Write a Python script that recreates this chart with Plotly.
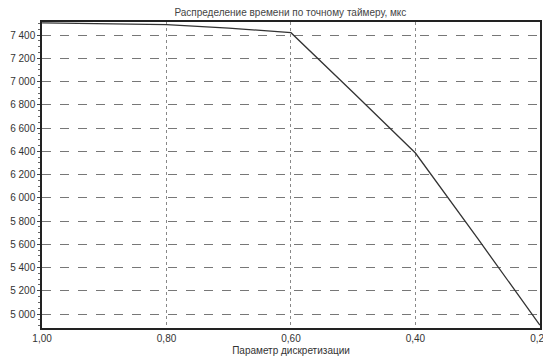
import plotly.graph_objects as go

param = [1.00, 0.90, 0.80, 0.70, 0.60, 0.50, 0.40, 0.30, 0.20]
time_us = [7505, 7500, 7490, 7460, 7420, 6905, 6385, 5650, 4905]
x_ticks = [1.00, 0.80, 0.60, 0.40, 0.20]
y_ticks = [5000, 5200, 5400, 5600, 5800, 6000, 6200, 6400, 6600, 6800, 7000, 7200, 7400]

fig = go.Figure()
fig.add_trace(go.Scatter(x=param, y=time_us, mode="lines",
                         line=dict(color="#333333", width=1.3), showlegend=False))

fig.update_layout(
    width=543, height=353,
    margin=dict(l=34, r=11, t=14, b=33),
    paper_bgcolor="white", plot_bgcolor="white",
    separators=", ",
    font=dict(family="Liberation Sans, Arial, sans-serif", size=10, color="#333333"),
    title=dict(text="Распределение времени по точному таймеру, мкс",
               x=0.52, xanchor="center", y=0.998, yanchor="top",
               font=dict(size=10, color="#444444")),
)
fig.update_xaxes(
    range=[1.0001, 0.1998], tickvals=x_ticks, tickformat=".2f",
    showline=True, linecolor="#222222", linewidth=1.5, mirror=True,
    showgrid=True, gridcolor="#888888", griddash="dot", gridwidth=1,
    ticks="", zeroline=False, automargin=False, ticklabeloverflow="allow",
    title=dict(text="Параметр дискретизации", standoff=4, font=dict(size=10)),
)
fig.update_yaxes(
    range=[4880, 7512], tickvals=y_ticks, tickformat=",d",
    showline=True, linecolor="#222222", linewidth=1.5, mirror=True,
    showgrid=True, gridcolor="#777777", griddash="dash", gridwidth=1,
    ticks="outside", ticklen=3, tickcolor="#444444",
    minor=dict(ticks="outside", ticklen=2, dtick=50, tickcolor="#666666"),
    zeroline=False, automargin=False, ticklabelstandoff=0,
)
fig.write_html("out.html")
